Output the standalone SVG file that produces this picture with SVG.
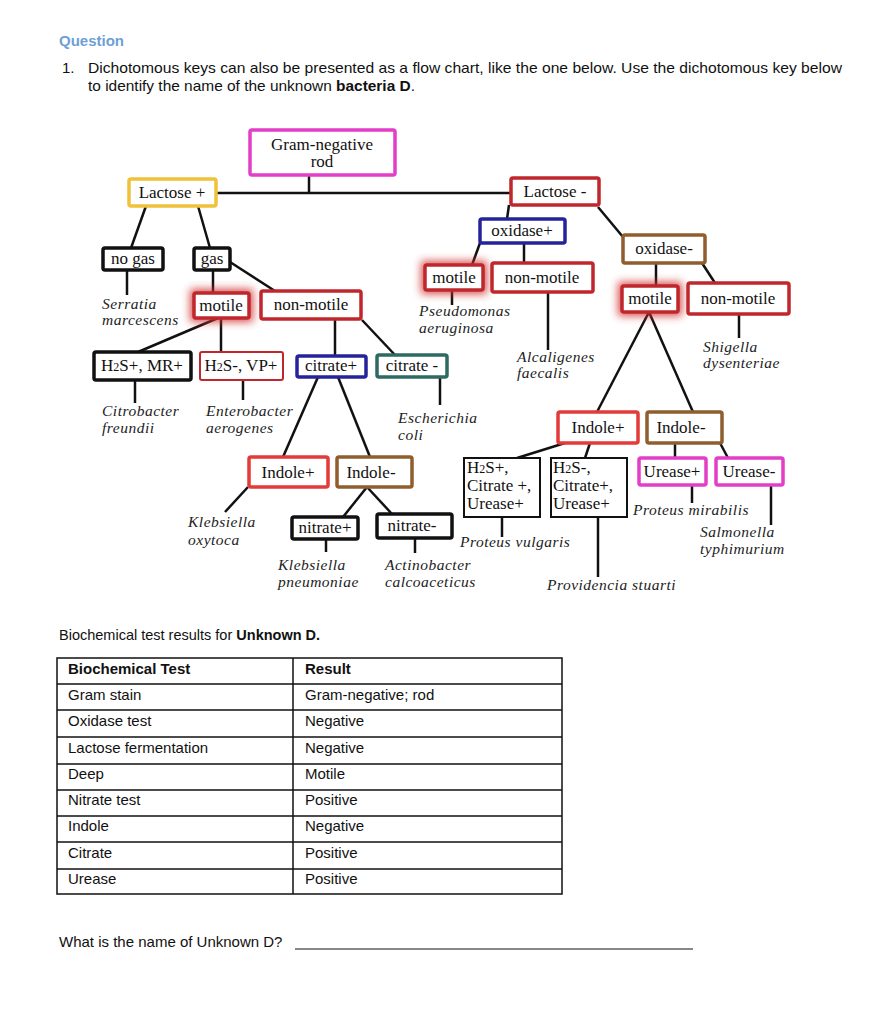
<svg xmlns="http://www.w3.org/2000/svg" width="889" height="1024" viewBox="0 0 889 1024">
<defs>
<filter id="glow" x="-50%" y="-50%" width="200%" height="200%"><feGaussianBlur stdDeviation="4.5"/></filter>
<style>
.sans{font-family:"Liberation Sans",Arial,sans-serif;fill:#111}
.ser{font-family:"Liberation Serif","Times New Roman",serif;font-size:17px;fill:#111;text-anchor:middle}
.ital{font-family:"Liberation Serif","Times New Roman",serif;font-size:15.5px;letter-spacing:0.5px;font-style:italic;fill:#222}
.lft{text-anchor:start}
.box{fill:#fff;stroke-width:3.5}
.blk{stroke:#111}
.red{stroke:#c0272d}
.bred{stroke:#e33a3a}
.mag{stroke:#e23ec8}
.yel{stroke:#f0c23a}
.blu{stroke:#25239a}
.brn{stroke:#8f5d2e}
.teal{stroke:#2e6a62}
.thin{stroke-width:2}
.halo{fill:#d03030;stroke:#d03030;stroke-width:8;filter:url(#glow);opacity:0.85}
#connectors line{stroke:#111;stroke-width:2.5}
.tbl line{stroke:#111;stroke-width:1.5}
</style>
</defs>
<rect width="889" height="1024" fill="#fff"/>

<g id="header">
<text class="sans" x="59" y="46" font-size="15" font-weight="bold" style="fill:#6e9fd5">Question</text>
<text class="sans" x="62" y="73" font-size="15">1.</text>
<text class="sans" x="88" y="73" font-size="15" textLength="754" lengthAdjust="spacingAndGlyphs">Dichotomous keys can also be presented as a flow chart, like the one below.  Use the dichotomous key below</text>
<text class="sans" x="88" y="91" font-size="15" textLength="327" lengthAdjust="spacingAndGlyphs">to identify the name of the unknown <tspan font-weight="bold">bacteria D</tspan>.</text>
</g>

<g id="connectors">
<line x1="309" y1="175" x2="309" y2="193"/>
<line x1="217" y1="193" x2="511" y2="193"/>
<line x1="146" y1="206" x2="131" y2="248"/>
<line x1="198" y1="206" x2="210" y2="248"/>
<line x1="127" y1="270" x2="127" y2="295"/>
<line x1="213" y1="270" x2="213" y2="293"/>
<line x1="230" y1="262" x2="275" y2="291"/>
<line x1="218" y1="318" x2="138" y2="352"/>
<line x1="221" y1="318" x2="221" y2="352"/>
<line x1="335" y1="319" x2="335" y2="356"/>
<line x1="362" y1="320" x2="395" y2="355"/>
<line x1="509" y1="205" x2="507" y2="219"/>
<line x1="598" y1="207" x2="623" y2="237"/>
<line x1="480" y1="243" x2="472" y2="265"/>
<line x1="524" y1="243" x2="524" y2="263"/>
<line x1="656" y1="263" x2="656" y2="286"/>
<line x1="702" y1="263" x2="715" y2="283"/>
<line x1="452" y1="290" x2="452" y2="305"/>
<line x1="548" y1="292" x2="548" y2="350"/>
<line x1="739" y1="314" x2="739" y2="338"/>
<line x1="135" y1="380" x2="135" y2="403"/>
<line x1="243" y1="380" x2="243" y2="400"/>
<line x1="318" y1="377" x2="283" y2="457"/>
<line x1="338" y1="377" x2="370" y2="457"/>
<line x1="440" y1="377" x2="440" y2="405"/>
<line x1="248" y1="487" x2="225" y2="512"/>
<line x1="367" y1="487" x2="343" y2="517"/>
<line x1="367" y1="487" x2="392" y2="514"/>
<line x1="326" y1="539" x2="326" y2="552"/>
<line x1="415" y1="538" x2="415" y2="553"/>
<line x1="649" y1="312" x2="597" y2="412"/>
<line x1="649" y1="312" x2="693" y2="412"/>
<line x1="565" y1="443" x2="517" y2="458"/>
<line x1="590" y1="443" x2="585" y2="458"/>
<line x1="502" y1="517" x2="502" y2="537"/>
<line x1="598" y1="517" x2="598" y2="577"/>
<line x1="675" y1="443" x2="675" y2="458"/>
<line x1="720" y1="443" x2="728" y2="458"/>
<line x1="692" y1="485" x2="692" y2="503"/>
<line x1="771" y1="485" x2="771" y2="525"/>
</g>

<g id="gram-negative"><rect class="box mag" x="250" y="130" width="145" height="45" rx="2"/><text class="ser" x="322" y="150">Gram-negative</text><text class="ser" x="322" y="167">rod</text></g>
<g id="lactose-plus"><rect class="box yel" x="129" y="179" width="87" height="27" rx="2"/><text class="ser" x="172" y="198">Lactose +</text></g>
<g id="lactose-minus"><rect class="box red" x="511" y="178" width="88" height="27" rx="2"/><text class="ser" x="555" y="197">Lactose -</text></g>
<g id="no-gas"><rect class="box blk" x="103" y="248" width="60" height="22" rx="2"/><text class="ser" x="133" y="264" font-size="15">no gas</text></g>
<g id="gas"><rect class="box blk" x="194" y="248" width="36" height="22" rx="2"/><text class="ser" x="212" y="264" font-size="15">gas</text></g>
<g id="motile-1"><rect class="halo" x="194" y="293" width="55" height="25"/><rect class="box red" x="194" y="293" width="55" height="25" rx="2"/><text class="ser" x="221" y="311">motile</text></g>
<g id="non-motile-1"><rect class="box red" x="261" y="291" width="100" height="28" rx="2"/><text class="ser" x="311" y="310">non-motile</text></g>
<g id="oxidase-plus"><rect class="box blu" x="480" y="219" width="85" height="24" rx="2"/><text class="ser" x="522" y="236">oxidase+</text></g>
<g id="oxidase-minus"><rect class="box brn" x="623" y="235" width="82" height="28" rx="2"/><text class="ser" x="664" y="254">oxidase-</text></g>
<g id="motile-2"><rect class="halo" x="425" y="265" width="58" height="25"/><rect class="box red" x="425" y="265" width="58" height="25" rx="2"/><text class="ser" x="454" y="283">motile</text></g>
<g id="non-motile-2"><rect class="box red" x="492" y="263" width="101" height="29" rx="2"/><text class="ser" x="542" y="283">non-motile</text></g>
<g id="motile-3"><rect class="halo" x="622" y="286" width="56" height="26"/><rect class="box red" x="622" y="286" width="56" height="26" rx="2"/><text class="ser" x="650" y="304">motile</text></g>
<g id="non-motile-3"><rect class="box red" x="688" y="283" width="101" height="31" rx="2"/><text class="ser" x="738" y="304">non-motile</text></g>
<g id="h2s-mr"><rect class="box blk" x="94" y="352" width="97" height="28" rx="2"/><text class="ser" x="142" y="371">H<tspan font-size="12">2</tspan>S+, MR+</text></g>
<g id="h2s-vp"><rect class="box red thin" x="200" y="352" width="83" height="28" rx="2"/><text class="ser" x="241" y="371">H<tspan font-size="12">2</tspan>S-, VP+</text></g>
<g id="citrate-plus"><rect class="box blu" x="297" y="356" width="69" height="21" rx="2"/><text class="ser" x="331" y="371" font-size="16">citrate+</text></g>
<g id="citrate-minus"><rect class="box teal" x="377" y="355" width="70" height="22" rx="2"/><text class="ser" x="412" y="371" font-size="16">citrate -</text></g>
<g id="indole-plus-1"><rect class="box bred" x="249" y="457" width="79" height="30" rx="2"/><text class="ser" x="288" y="478">Indole+</text></g>
<g id="indole-minus-1"><rect class="box brn" x="337" y="457" width="75" height="30" rx="2"/><text class="ser" x="371" y="478">Indole-</text></g>
<g id="nitrate-plus"><rect class="box blk" x="292" y="517" width="66" height="22" rx="2"/><text class="ser" x="325" y="533" font-size="15.5">nitrate+</text></g>
<g id="nitrate-minus"><rect class="box blk" x="377" y="514" width="75" height="24" rx="2"/><text class="ser" x="412" y="531" font-size="16">nitrate-</text></g>
<g id="indole-plus-2"><rect class="box bred" x="558" y="412" width="80" height="31" rx="2"/><text class="ser" x="598" y="433">Indole+</text></g>
<g id="indole-minus-2"><rect class="box brn" x="647" y="412" width="75" height="31" rx="2"/><text class="ser" x="681" y="433">Indole-</text></g>
<g id="h2s-plus-box"><rect class="box blk thin" x="464" y="458" width="76" height="59"/><text class="ser lft" x="467" y="473">H<tspan font-size="12">2</tspan>S+,</text><text class="ser lft" x="467" y="491">Citrate +,</text><text class="ser lft" x="467" y="509">Urease+</text></g>
<g id="h2s-minus-box"><rect class="box blk thin" x="551" y="458" width="76" height="59"/><text class="ser lft" x="553" y="473">H<tspan font-size="12">2</tspan>S-,</text><text class="ser lft" x="553" y="491">Citrate+,</text><text class="ser lft" x="553" y="509">Urease+</text></g>
<g id="urease-plus"><rect class="box mag" x="639" y="458" width="67" height="27" rx="2"/><text class="ser" x="672" y="477">Urease+</text></g>
<g id="urease-minus"><rect class="box mag" x="716" y="458" width="67" height="27" rx="2"/><text class="ser" x="749" y="477">Urease-</text></g>

<g id="species">
<text class="ital" x="102" y="309">Serratia</text><text class="ital" x="102" y="325">marcescens</text>
<text class="ital" x="419" y="316">Pseudomonas</text><text class="ital" x="419" y="333">aeruginosa</text>
<text class="ital" x="517" y="362">Alcaligenes</text><text class="ital" x="517" y="378">faecalis</text>
<text class="ital" x="703" y="352">Shigella</text><text class="ital" x="703" y="368">dysenteriae</text>
<text class="ital" x="102" y="416">Citrobacter</text><text class="ital" x="102" y="433">freundii</text>
<text class="ital" x="206" y="416">Enterobacter</text><text class="ital" x="206" y="433">aerogenes</text>
<text class="ital" x="398" y="423">Escherichia</text><text class="ital" x="398" y="440">coli</text>
<text class="ital" x="188" y="527">Klebsiella</text><text class="ital" x="188" y="545">oxytoca</text>
<text class="ital" x="278" y="570">Klebsiella</text><text class="ital" x="278" y="587">pneumoniae</text>
<text class="ital" x="385" y="570">Actinobacter</text><text class="ital" x="385" y="587">calcoaceticus</text>
<text class="ital" x="460" y="547">Proteus vulgaris</text>
<text class="ital" x="547" y="590">Providencia stuarti</text>
<text class="ital" x="633" y="515">Proteus mirabilis</text>
<text class="ital" x="700" y="537">Salmonella</text><text class="ital" x="700" y="554">typhimurium</text>
</g>

<g id="results-table" class="tbl">
<text class="sans" x="59" y="640" font-size="14.5">Biochemical test results for <tspan font-weight="bold">Unknown D.</tspan></text>
<rect x="57" y="658" width="505" height="236" fill="none" stroke="#111" stroke-width="1.5"/>
<line x1="293" y1="658" x2="293" y2="894"/>
<line x1="57" y1="684" x2="562" y2="684"/>
<line x1="57" y1="710" x2="562" y2="710"/>
<line x1="57" y1="737" x2="562" y2="737"/>
<line x1="57" y1="764" x2="562" y2="764"/>
<line x1="57" y1="790" x2="562" y2="790"/>
<line x1="57" y1="816" x2="562" y2="816"/>
<line x1="57" y1="842" x2="562" y2="842"/>
<line x1="57" y1="869" x2="562" y2="869"/>
<g class="sans" font-size="15">
<text x="68" y="674" font-weight="bold">Biochemical Test</text><text x="305" y="674" font-weight="bold">Result</text>
<text x="68" y="700">Gram stain</text><text x="305" y="700">Gram-negative; rod</text>
<text x="68" y="726">Oxidase test</text><text x="305" y="726">Negative</text>
<text x="68" y="753">Lactose fermentation</text><text x="305" y="753">Negative</text>
<text x="68" y="779">Deep</text><text x="305" y="779">Motile</text>
<text x="68" y="805">Nitrate test</text><text x="305" y="805">Positive</text>
<text x="68" y="831">Indole</text><text x="305" y="831">Negative</text>
<text x="68" y="858">Citrate</text><text x="305" y="858">Positive</text>
<text x="68" y="884">Urease</text><text x="305" y="884">Positive</text>
</g>
</g>

<g id="question">
<text class="sans" x="59" y="947" font-size="15">What is the name of Unknown D?</text>
<line x1="295" y1="949" x2="693" y2="949" stroke="#111" stroke-width="1"/>
</g>
</svg>
